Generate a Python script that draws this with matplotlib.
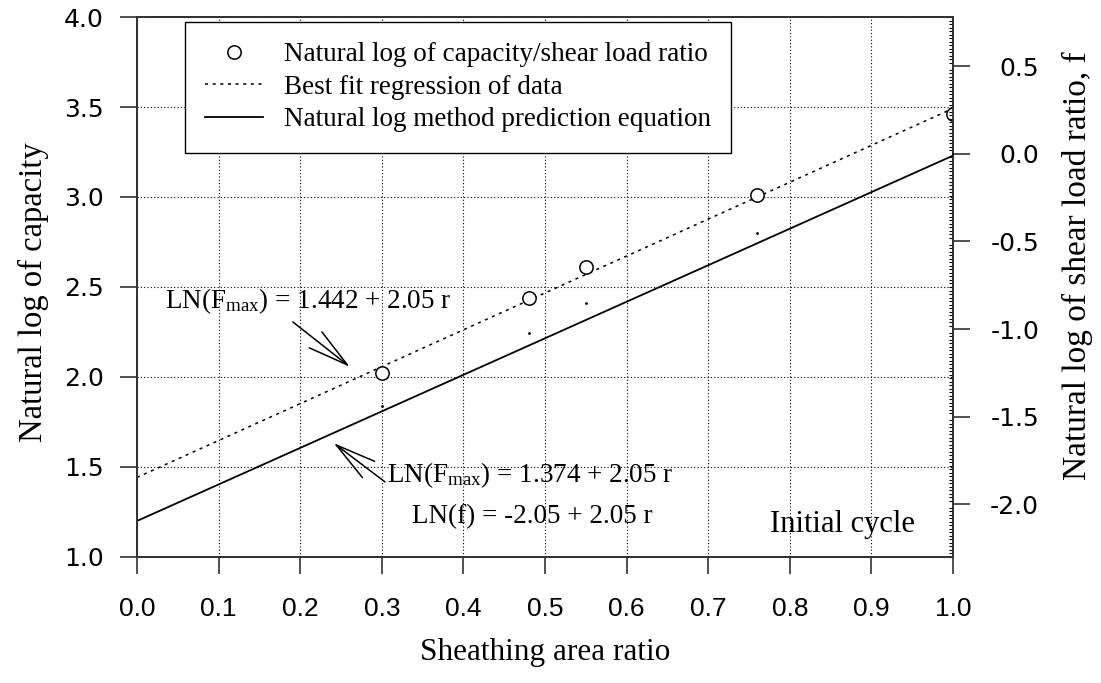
import matplotlib
matplotlib.use("Agg")
import matplotlib.pyplot as plt
from matplotlib.ticker import MultipleLocator

# data
r_data = [0.30, 0.48, 0.55, 0.76, 1.00]
ln_capacity = [2.02, 2.44, 2.61, 3.01, 3.46]
ln_ratio = [-1.44, -1.02, -0.85, -0.45, 0.00]

fit_r = [0.0, 1.0]
fit_ln = [1.442, 3.492]

pred_r = [0.0, 1.0]
pred_ln = [1.20, 3.23]

x_ticks = [0.0, 0.1, 0.2, 0.3, 0.4, 0.5, 0.6, 0.7, 0.8, 0.9, 1.0]
left_ticks = [1.0, 1.5, 2.0, 2.5, 3.0, 3.5, 4.0]
right_ticks = [-2.0, -1.5, -1.0, -0.5, 0.0, 0.5]

serif = "Liberation Serif"
sans = "DejaVu Sans"

plt.rcParams["mathtext.fontset"] = "custom"
plt.rcParams["mathtext.rm"] = serif
plt.rcParams["mathtext.it"] = serif + ":italic"

fig = plt.figure(figsize=(11.01, 6.83), dpi=100)
ax = fig.add_axes([0.1244, 0.1845, 0.7412, 0.7906])
ax2 = ax.twinx()

ax.set_xlim(0, 1)
ax.set_ylim(1.0, 4.0)
ax2.set_ylim(-2.30, 0.78)

ax.set_xticks(x_ticks)
ax.set_xticklabels([f"{v:.1f}" for v in x_ticks], fontfamily="Liberation Sans", fontsize=19)
ax.set_yticks(left_ticks)
ax.set_yticklabels([f"{v:.1f}" for v in left_ticks], fontfamily=sans, fontsize=18)
ax2.set_yticks(right_ticks)
ax2.set_yticklabels([f"{v:.1f}" for v in right_ticks], fontfamily=sans, fontsize=18,
                    ha="right")
ax2.yaxis.set_minor_locator(MultipleLocator(0.02))

ax.tick_params(axis="x", which="major", direction="out", length=12, width=1.2,
               color="#333333", pad=17)
ax.tick_params(axis="y", which="major", direction="out", length=12, width=1.2,
               color="#333333", pad=12)
ax2.tick_params(axis="y", which="major", direction="out", length=12, width=1.2,
                color="#333333", pad=50)
ax2.tick_params(axis="y", which="minor", direction="in", length=3, width=0.8)

for a in (ax, ax2):
    for s in a.spines.values():
        s.set_linewidth(1.3)
        s.set_color("#333333")

ax.grid(True, color="black", linestyle=(0, (1, 2)), linewidth=0.8)
ax.set_axisbelow(True)

ax.plot(r_data, ln_capacity, "o", mfc="white", mec="black", ms=9.6, mew=1.1,
        label="Natural log of capacity/shear load ratio", zorder=4)
ax.plot(fit_r, fit_ln, color="black", linestyle=(0, (2, 3)), lw=1.1,
        label="Best fit regression of data", zorder=3)
ax.plot(pred_r, pred_ln, color="black", lw=1.3,
        label="Natural log method prediction equation", zorder=3)
ax2.plot(r_data, ln_ratio, ".", color="black", ms=2, zorder=3)

leg = ax.legend(loc="upper left", bbox_to_anchor=(0.0588, 0.991), borderaxespad=0,
                prop={"family": serif, "size": 19.5}, frameon=True, fancybox=False,
                edgecolor="black", framealpha=1, handlelength=2.15,
                handletextpad=0.74, labelspacing=0.28, borderpad=0.75)
leg.get_frame().set_linewidth(1.0)
leg.set_zorder(10)

arrow = dict(arrowstyle="->,head_length=0.4,head_width=0.1", color="black",
             lw=1.1, mutation_scale=73, shrinkA=0, shrinkB=0)
ax.annotate("", xy=(0.261, 2.056), xytext=(0.191, 2.306), arrowprops=arrow)
ax.annotate("", xy=(0.241, 1.633), xytext=(0.304, 1.417), arrowprops=arrow)

ax.text(0.034, 2.383, r"LN(F$_{\rm max}$) = 1.442 + 2.05 r", family=serif,
        fontsize=19.5, va="baseline", ha="left")
ax.text(0.306, 1.418, r"LN(F$_{\rm max}$) = 1.374 + 2.05 r", family=serif,
        fontsize=19.5, va="baseline", ha="left")
ax.text(0.337, 1.189, "LN(f) = -2.05 + 2.05 r", family=serif,
        fontsize=19.5, va="baseline", ha="left")
ax.text(0.776, 1.141, "Initial cycle", family=serif, fontsize=22,
        va="baseline", ha="left")

ax.set_xlabel("Sheathing area ratio", family=serif, fontsize=22.5)
ax.xaxis.set_label_coords(0.5, -0.15)
ax.set_ylabel("Natural log of capacity", family=serif, fontsize=23.5, va="center")
ax.yaxis.set_label_coords(-0.127, 0.49)
ax2.set_ylabel("Natural log of shear load ratio, f", family=serif, fontsize=24,
               rotation=90, va="center")
ax2.yaxis.set_label_coords(1.152, 0.54)

fig.savefig("out.png", dpi=100)
